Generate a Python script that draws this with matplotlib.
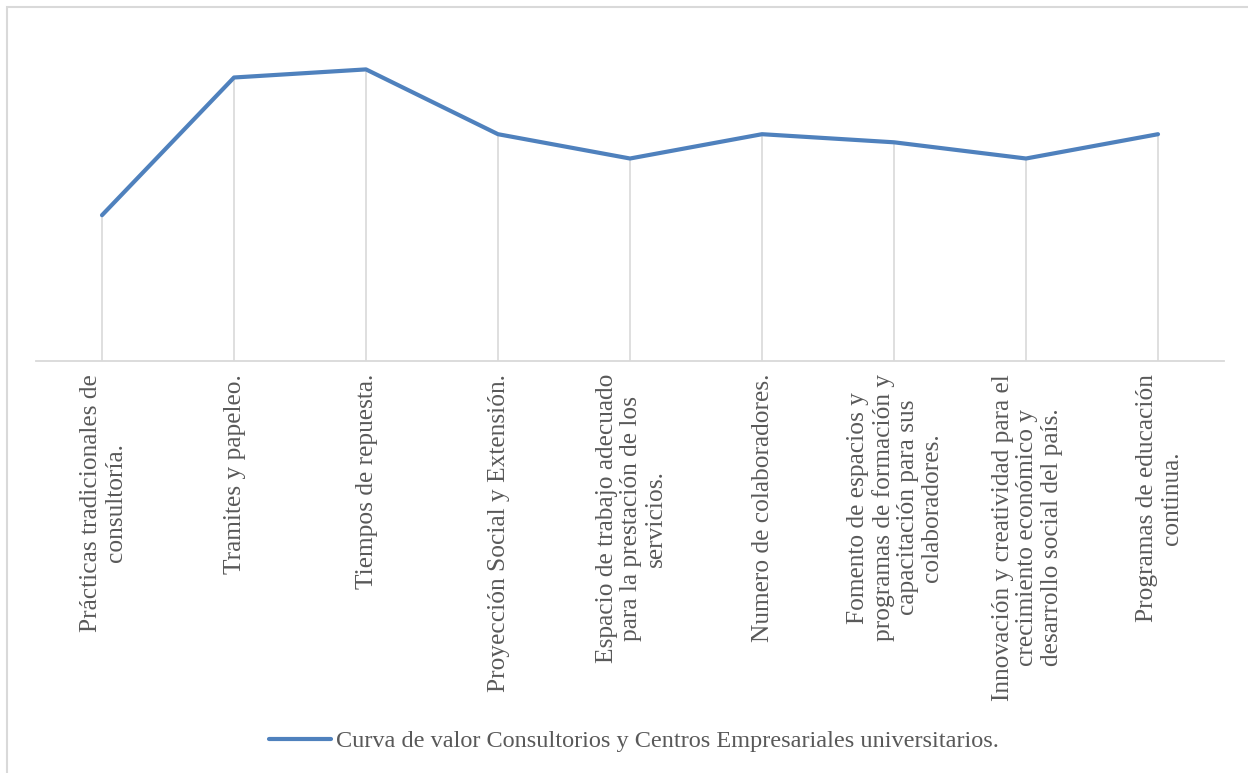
import matplotlib
matplotlib.use("Agg")
import matplotlib.pyplot as plt
from matplotlib.patches import Rectangle
from matplotlib.lines import Line2D

categories = [
    "Prácticas tradicionales de\nconsultoría.",
    "Tramites y papeleo.",
    "Tiempos de repuesta.",
    "Proyección Social y Extensión.",
    "Espacio de trabajo adecuado\npara la prestación de los\nservicios.",
    "Numero de colaboradores.",
    "Fomento de espacios y\nprogramas de formación y\ncapacitación para sus\ncolaboradores.",
    "Innovación y creatividad para el\ncrecimiento económico y\ndesarrollo social del país.",
    "Programas de educación\ncontinua.",
]
values = [1.8, 3.5, 3.6, 2.8, 2.5, 2.8, 2.7, 2.5, 2.8]
series_name = "Curva de valor Consultorios y Centros Empresariales universitarios."

plt.rcParams['font.family'] = ['Liberation Serif', 'DejaVu Serif']
W, H = 1248, 773
fig = plt.figure(figsize=(W / 100, H / 100), dpi=100)

ax_left, ax_right = 36 / W, 1224 / W
ax_bottom, ax_top = (H - 361) / H, (H - 37) / H
ax = fig.add_axes([ax_left, ax_bottom, ax_right - ax_left, ax_top - ax_bottom])

x = list(range(len(categories)))
ax.plot(x, values, color='#4F81BD', lw=3.0, solid_joinstyle='round',
        solid_capstyle='round', zorder=3)
ax.set_xlim(-0.5, len(categories) - 0.5)
ax.set_ylim(0, 4)

ax.set_xticks(x)
ax.set_xticklabels([])
ax.tick_params(axis='x', length=0)
ax.set_yticks([])
for xi, v in zip(x, values):
    ax.vlines(xi, 0, v, color='#D9D9D9', lw=1.2, zorder=1)
for s in ['top', 'right', 'left']:
    ax.spines[s].set_visible(False)
ax.spines['bottom'].set_color('#D9D9D9')
ax.spines['bottom'].set_linewidth(1.3)

for xi, lab in zip(x, categories):
    ax.text(xi + 0.01, -0.16, lab, rotation=90, ha='center', va='top',
            multialignment='center', fontsize=18.3, color='#595959',
            transform=ax.transData, linespacing=1.14)

handle = Line2D([0], [0], color='#4F81BD', lw=3.0, solid_capstyle='round')
fig.legend([handle], [series_name], loc='center', bbox_to_anchor=(634 / W, 1 - 741 / H),
           frameon=False, fontsize=17.5, labelcolor='#595959', handlelength=2.55,
           handletextpad=0.2)

fig.patches.append(Rectangle((7 / W, -0.05), 1.1, 1 - 7 / H + 0.05,
                             transform=fig.transFigure, fill=False,
                             edgecolor='#D9D9D9', lw=1.5))

fig.savefig('out.png', dpi=100, facecolor='white')
